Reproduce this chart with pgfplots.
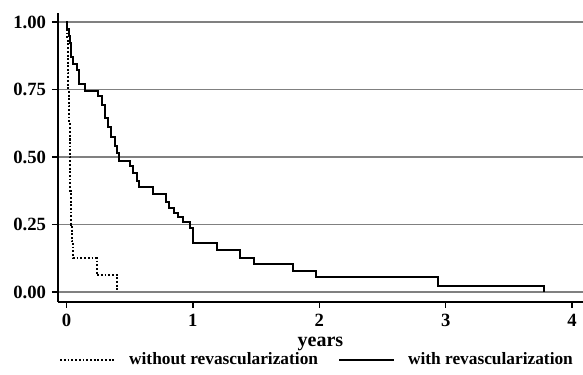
\documentclass[border=0pt]{standalone}
\usepackage{fontspec}
\setmainfont{Liberation Serif}
\usepackage{pgfplots}
\pgfplotsset{compat=1.18}
\begin{document}
\begin{tikzpicture}[x=1pt,y=1pt]
\useasboundingbox (0,0) rectangle (437.25,281.25);
\begin{axis}[
 at={(43.5pt,54.75pt)}, anchor=south west,
 scale only axis, width=393.75pt, height=216.75pt,
 xmin=-0.0672, xmax=4.0862, ymin=-0.037, ymax=1.0333,
 axis x line*=bottom, axis y line*=left,
 axis line style={line width=1pt},
 xtick={0,1,2,3,4}, ytick={0,0.25,0.5,0.75,1},
 tick align=outside, major tick length=4.5pt,
 tick style={line width=1pt, black},
 ymajorgrids, grid style={black!50, line width=0.8pt},
 yticklabel style={/pgf/number format/fixed, /pgf/number format/fixed zerofill, /pgf/number format/precision=2, xshift=-1pt},
 /pgf/number format/assume math mode=true,
 ticklabel style={font=\bfseries\fontsize{14}{14}\selectfont},
 xticklabel style={yshift=-1pt},
 xlabel={years}, xlabel style={font=\bfseries\fontsize{15}{15}\selectfont, yshift=-1pt},
 legend style={at={(0.494,-0.2)}, anchor=center, draw=none, fill=none,
   font=\bfseries\fontsize{13}{13}\selectfont, legend columns=2,
   /tikz/every odd column/.append style={column sep=8pt},
   /tikz/every even column/.append style={column sep=13pt}},
 legend image code/.code={\draw[#1] (0pt,0pt) -- (41pt,0pt);},
]
\addplot[const plot, black, line width=1.5pt, dash pattern=on 1.4pt off 1.4pt] coordinates {
(0,1) (0.005,0.9375) (0.008,0.875) (0.011,0.8125) (0.014,0.75) (0.016,0.6875)
(0.020,0.625) (0.024,0.5625) (0.027,0.5) (0.029,0.4375) (0.031,0.375)
(0.033,0.3125) (0.036,0.25) (0.040,0.1875) (0.054,0.125) (0.239,0.0625) (0.403,0) (0.403,0)
};
\addlegendentry{without revascularization}
\addplot[const plot, black, line width=1.5pt] coordinates {
(0,1) (0.002,0.974) (0.022,0.949) (0.030,0.923) (0.033,0.897) (0.036,0.872)
(0.049,0.846) (0.085,0.821) (0.101,0.769) (0.146,0.744)
(0.252,0.725) (0.278,0.693) (0.305,0.643) (0.326,0.612) (0.352,0.573)
(0.384,0.542) (0.397,0.513) (0.418,0.487) (0.502,0.466) (0.524,0.44)
(0.555,0.41) (0.576,0.389) (0.682,0.362) (0.785,0.334) (0.813,0.31)
(0.850,0.294) (0.884,0.277) (0.919,0.26) (0.977,0.236) (0.998,0.18)
(1.193,0.156) (1.373,0.127) (1.483,0.103) (1.790,0.079) (1.974,0.0556)
(2.941,0.023) (3.780,0) (3.780,0)
};
\addlegendentry{with revascularization}
\end{axis}
\end{tikzpicture}
\end{document}
